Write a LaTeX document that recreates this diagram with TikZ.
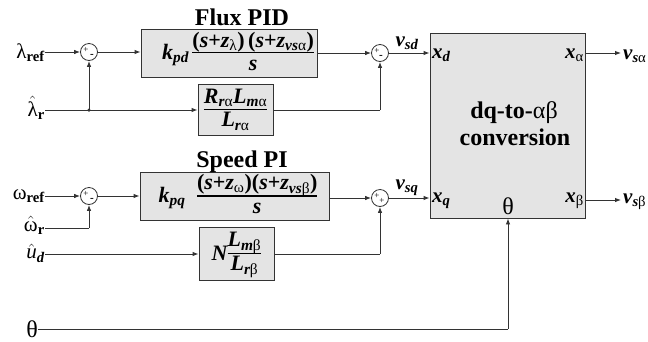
\documentclass[tikz,border=0pt]{standalone}
\usepackage{amsmath}
\usepackage{fontspec}
\setmainfont{Liberation Serif}
\usetikzlibrary{arrows.meta}
\newcommand{\bi}[1]{\text{\bfseries\itshape #1}}
\newcommand{\rb}[1]{\text{\bfseries #1}}
\newcommand{\gk}[1]{\text{\mdseries\upshape #1}}
\newcommand{\tfr}[2]{{\setlength{\arrayrulewidth}{1.4pt}\def\arraystretch{0.82}%
  \begin{tabular}{@{}c@{}}$#1$\\[-1pt]\hline\rule{0pt}{17pt}$#2$\end{tabular}}}
\definecolor{ln}{HTML}{333333}
\definecolor{bx}{HTML}{E4E4E4}
\tikzset{
  blk/.style={draw=ln, line width=0.9pt, fill=bx, inner sep=0pt},
  sumc/.style={circle, draw=ln, line width=0.8pt, minimum size=17pt, inner sep=0pt},
  wire/.style={draw=ln, line width=0.9pt},
  arr/.style={wire, -{Latex[length=6pt,width=4.5pt]}},
  sgn/.style={font=\fontsize{9}{9}\selectfont, inner sep=0pt},
  ttl/.style={font=\fontsize{24}{26}\selectfont\bfseries, inner sep=0pt, anchor=base},
  lbl/.style={font=\fontsize{21}{22}\selectfont, inner sep=0pt},
  tf/.style={font=\fontsize{22}{24}\selectfont, inner sep=0pt},
  dot/.style={circle, fill=ln, minimum size=3.5pt, inner sep=0pt},
}
\begin{document}
\begin{tikzpicture}[x=1pt,y=-1pt]
\useasboundingbox (0,0) rectangle (648,341);
% blocks
\node[blk, minimum width=176pt, minimum height=48pt] (flux) at (229,53) {};
\node[tf] (fluxtf) at (238,54)
  {$\bi{k}_{\bi{pd}}\,\tfr{\rb{(}\bi{s}\rb{+}\bi{z}_{\gk{λ}}\rb{)}\,\rb{(}\bi{s}\rb{+}\bi{z}_{\bi{vs}\gk{α}}\rb{)}}{\bi{s}}$};
\node[ttl] (fluxt) at (242,25) {Flux PID};
\node[blk, minimum width=75pt, minimum height=51pt] (rb) at (235.5,110) {};
\node[tf] (rbtf) at (235.5,111)
  {$\tfr{\bi{R}_{\bi{r}\gk{α}}\bi{L}_{\bi{m}\gk{α}}}{\bi{L}_{\bi{r}\gk{α}}}$};
\node[blk, minimum width=189pt, minimum height=48pt] (speed) at (234.5,196) {};
\node[tf] (speedtf) at (238,197)
  {$\bi{k}_{\bi{pq}}\;\;\tfr{\rb{(}\bi{s}\rb{+}\bi{z}_{\gk{ω}}\rb{)}\rb{(}\bi{s}\rb{+}\bi{z}_{\bi{vs}\gk{β}}\rb{)}}{\bi{s}}$};
\node[ttl] (speedt) at (242,167) {Speed PI};
\node[blk, minimum width=75pt, minimum height=53pt] (nb) at (236.5,254) {};
\node[tf] (nbtf) at (236.5,255)
  {$\bi{N}\tfr{\bi{L}_{\bi{m}\gk{β}}}{\bi{L}_{\bi{r}\gk{β}}}$};
\node[blk, minimum width=155pt, minimum height=185pt] (dq) at (507.5,125.5) {};
\node[ttl] (dqt1) at (514,118) {dq-to-\mdseries αβ};
\node[ttl] (dqt2) at (515,145) {conversion};
\node[lbl, anchor=west] (xd) at (432,55) {$\bi{x}_{\bi{d}}$};
\node[lbl, anchor=east] (xa) at (584,55) {$\bi{x}_{\gk{α}}$};
\node[lbl, anchor=west] (xq) at (432,201) {$\bi{x}_{\bi{q}}$};
\node[lbl, anchor=east] (xb) at (584,201) {$\bi{x}_{\gk{β}}$};
\node[font=\fontsize{24}{24}\selectfont, inner sep=0pt] (thin) at (508,206) {θ};
% summing junctions
\node[sumc] (s1) at (89,52) {};
\node[sgn] at (86,50) {+};
\node[sgn, font=\fontsize{11}{11}\selectfont\bfseries] at (92,56) {-};
\node[sumc] (s2) at (380,53) {};
\node[sgn] at (377,51) {+};
\node[sgn, font=\fontsize{11}{11}\selectfont\bfseries] at (381,57) {-};
\node[sumc] (s3) at (89,196) {};
\node[sgn] at (86,194) {+};
\node[sgn, font=\fontsize{11}{11}\selectfont\bfseries] at (92,200) {-};
\node[sumc] (s4) at (380,198) {};
\node[sgn] at (377,196) {+};
\node[sgn] at (382,201) {+};
% input labels
\node[lbl, anchor=east] (lref) at (45,53) {$\gk{λ}_{\rb{ref}}$};
\node[lbl, anchor=east] (lhat) at (45,108) {$\hat{\gk{λ}}_{\rb{r}}$};
\node[lbl, anchor=east] (wref) at (45,196) {$\gk{ω}_{\rb{ref}}$};
\node[lbl, anchor=east] (what) at (45,225) {$\hat{\gk{ω}}_{\rb{r}}$};
\node[lbl, anchor=east] (uhat) at (45,253) {$\hat{\textit{u}}_{\bi{d}}$};
\node[font=\fontsize{24}{24}\selectfont, inner sep=0pt, anchor=east] (th) at (38,329) {θ};
% output labels
\node[lbl, anchor=west] (vsa) at (623,56) {$\bi{v}_{\bi{s}\gk{α}}$};
\node[lbl, anchor=west] (vsb) at (623,202) {$\bi{v}_{\bi{s}\gk{β}}$};
\node[lbl] (vsd) at (407,43) {$\bi{v}_{\bi{sd}}$};
\node[lbl] (vsq) at (407,188) {$\bi{v}_{\bi{sq}}$};
% coordinates
\coordinate (j1) at (89,110);
\coordinate (c2) at (380,110);
\coordinate (j3) at (89,228);
\coordinate (c4) at (380,254);
\coordinate (ca) at (621,53);
\coordinate (cb) at (621,200);
\coordinate (ct) at (508,329);
% wires
\draw[arr] (lref.east |- s1) -- (s1);
\draw[arr] (s1) -- (flux.west |- s1);
\draw[wire] (lhat.east |- j1) -- (j1);
\draw[arr] (j1) -- (rb.west |- j1);
\draw[arr] (j1) -- (s1);
\node[dot] at (j1) {};
\draw[arr] (flux.east |- s2) -- (s2);
\draw[wire] (rb.east |- c2) -- (c2);
\draw[arr] (c2) -- (s2);
\draw[arr] (s2) -- (dq.west |- s2);
\draw[arr] (dq.east |- ca) -- (ca);
\draw[arr] (wref.east |- s3) -- (s3);
\draw[arr] (s3) -- (speed.west |- s3);
\draw[wire] (what.east |- j3) -- (j3);
\draw[arr] (j3) -- (s3);
\draw[arr] (uhat.east |- nb) -- (nb.west);
\draw[arr] (speed.east |- s4) -- (s4);
\draw[wire] (nb.east |- c4) -- (c4);
\draw[arr] (c4) -- (s4);
\draw[arr] (s4) -- (dq.west |- s4);
\draw[arr] (dq.east |- cb) -- (cb);
\draw[wire] (th.east |- ct) -- (ct);
\draw[arr] (ct) -- (dq.south -| ct);
\end{tikzpicture}
\end{document}
